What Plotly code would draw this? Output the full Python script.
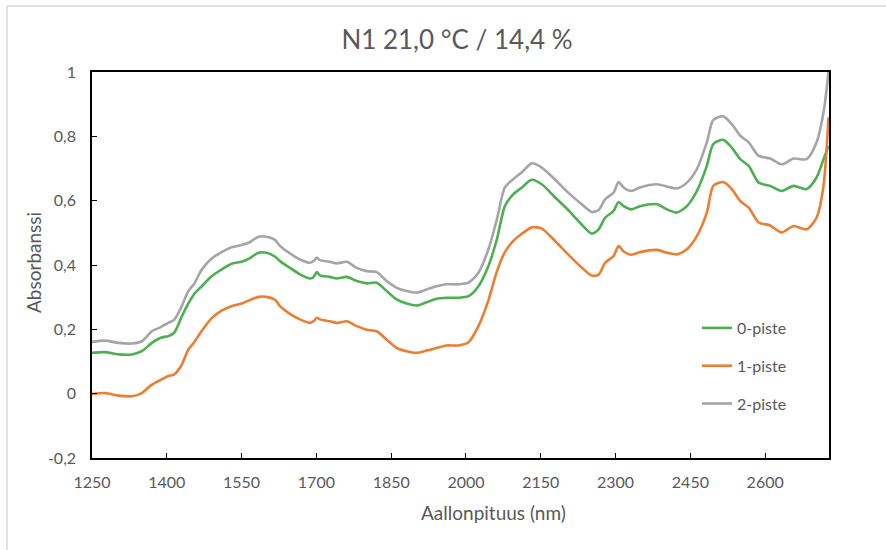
import plotly.graph_objects as go

# Wavelength grid (nm) and absorbance for the three samples
wavelength = [1250, 1276, 1303, 1330, 1350, 1370, 1388, 1403, 1415, 1430, 1443, 1455, 1470, 1490,
              1510, 1530, 1550, 1565, 1584, 1600, 1617, 1627, 1647, 1667, 1687, 1694, 1701, 1707,
              1727, 1741, 1761, 1781, 1801, 1821, 1841, 1861, 1881, 1901, 1921, 1941, 1961, 1985,
              2005, 2025, 2045, 2062, 2078, 2095, 2112, 2132, 2152, 2179, 2205, 2232, 2252, 2266,
              2279, 2296, 2306, 2316, 2332, 2349, 2383, 2403, 2423, 2443, 2463, 2483, 2496, 2516,
              2533, 2550, 2567, 2587, 2610, 2633, 2657, 2683, 2703, 2717, 2727]

piste_0 = [0.127, 0.129, 0.122, 0.122, 0.132, 0.158, 0.174, 0.179, 0.190, 0.240, 0.280, 0.310, 0.334, 0.365,
           0.386, 0.404, 0.410, 0.420, 0.438, 0.438, 0.426, 0.412, 0.391, 0.371, 0.358, 0.362, 0.378, 0.368,
           0.363, 0.358, 0.363, 0.350, 0.343, 0.345, 0.319, 0.293, 0.280, 0.274, 0.284, 0.295, 0.298, 0.298,
           0.303, 0.334, 0.397, 0.480, 0.583, 0.620, 0.641, 0.665, 0.651, 0.610, 0.571, 0.526, 0.498, 0.511,
           0.547, 0.568, 0.596, 0.583, 0.573, 0.583, 0.589, 0.573, 0.563, 0.583, 0.630, 0.708, 0.776, 0.789,
           0.765, 0.729, 0.708, 0.656, 0.646, 0.630, 0.646, 0.636, 0.672, 0.729, 0.770]

piste_1 = [-0.001, 0.002, -0.006, -0.008, 0.002, 0.028, 0.043, 0.055, 0.060, 0.090, 0.137, 0.160, 0.195, 0.235,
           0.258, 0.272, 0.280, 0.290, 0.301, 0.301, 0.292, 0.272, 0.248, 0.231, 0.220, 0.225, 0.236, 0.231,
           0.225, 0.220, 0.225, 0.210, 0.199, 0.194, 0.168, 0.142, 0.132, 0.127, 0.134, 0.142, 0.150, 0.150,
           0.160, 0.210, 0.290, 0.380, 0.440, 0.475, 0.497, 0.517, 0.513, 0.474, 0.433, 0.392, 0.367, 0.370,
           0.407, 0.428, 0.459, 0.442, 0.432, 0.440, 0.447, 0.438, 0.433, 0.449, 0.490, 0.563, 0.646, 0.658,
           0.636, 0.599, 0.578, 0.532, 0.523, 0.501, 0.521, 0.511, 0.547, 0.646, 0.859]

piste_2 = [0.161, 0.165, 0.158, 0.156, 0.163, 0.194, 0.207, 0.220, 0.230, 0.272, 0.319, 0.342, 0.385, 0.420,
           0.440, 0.455, 0.462, 0.470, 0.488, 0.488, 0.478, 0.459, 0.436, 0.417, 0.407, 0.412, 0.423, 0.415,
           0.410, 0.405, 0.410, 0.391, 0.381, 0.378, 0.350, 0.329, 0.319, 0.314, 0.324, 0.334, 0.340, 0.340,
           0.345, 0.376, 0.449, 0.542, 0.641, 0.667, 0.688, 0.716, 0.703, 0.665, 0.625, 0.589, 0.565, 0.571,
           0.604, 0.625, 0.658, 0.641, 0.630, 0.641, 0.651, 0.644, 0.638, 0.656, 0.698, 0.781, 0.851, 0.862,
           0.838, 0.802, 0.781, 0.739, 0.731, 0.713, 0.731, 0.729, 0.781, 0.874, 1.000]

series_names = ["0-piste", "1-piste", "2-piste"]
series_colors = ["#4CAF50", "#ED7D31", "#A5A5A5"]

x_ticks = [1250, 1400, 1550, 1700, 1850, 2000, 2150, 2300, 2450, 2600]
y_ticks = [-0.2, 0, 0.2, 0.4, 0.6, 0.8, 1]
y_tick_labels = ["-0,2", "0", "0,2", "0,4", "0,6", "0,8", "1"]

W, H = 886, 550
L, R, T, B = 92, 829, 72, 458  # plot area in pixels

fig = go.Figure()
for i, (name, vals, col) in enumerate(zip(series_names, [piste_0, piste_1, piste_2], series_colors)):
    fig.add_trace(go.Scatter(
        x=wavelength, y=vals, name=name, mode="lines",
        line=dict(color=col, width=2.6, shape="spline", smoothing=0.7),
        legendgroup=f"g{i}",
    ))

txt = "#595959"
font_family = "Lato, 'Open Sans', sans-serif"

def px_to_paper_x(px):
    return (px - L) / (R - L)

def px_to_paper_y(py):
    return (B - py) / (B - T)

fig.update_layout(
    width=W, height=H,
    margin=dict(l=L, r=W - R, t=T, b=H - B, pad=0),
    paper_bgcolor="white", plot_bgcolor="white",
    font=dict(family=font_family, color=txt, size=16),
    title=dict(text="N1 21,0 °C / 14,4 %", x=457 / W, xanchor="center",
               y=1 - 40 / H, yanchor="middle", font=dict(size=26, color=txt)),
    showlegend=True,
    legend=dict(x=px_to_paper_x(697), y=px_to_paper_y(311), xanchor="left", yanchor="top",
                traceorder="grouped", tracegroupgap=14, bgcolor="rgba(0,0,0,0)",
                font=dict(size=16, color=txt)),
    xaxis=dict(range=[1250, 2728], tickvals=x_ticks, showgrid=False, zeroline=False,
               showline=True, linecolor="black", linewidth=1.5, mirror=True,
               ticks="inside", ticklen=5, tickcolor="black", tickwidth=1,
               ticklabelstandoff=9, tickfont=dict(size=16, color=txt)),
    yaxis=dict(range=[-0.2, 1], tickvals=y_ticks, ticktext=y_tick_labels, showgrid=False,
               zeroline=False, showline=True, linecolor="black", linewidth=1.5, mirror=True,
               ticks="inside", ticklen=5, tickcolor="black", tickwidth=1,
               ticklabelstandoff=11, tickfont=dict(size=16, color=txt)),
)

# axis titles
fig.add_annotation(text="Aallonpituus (nm)", xref="paper", yref="paper",
                   x=px_to_paper_x(493), y=px_to_paper_y(512), xanchor="center", yanchor="middle",
                   showarrow=False, font=dict(size=19, color=txt))
fig.add_annotation(text="Absorbanssi", xref="paper", yref="paper", textangle=-90,
                   x=px_to_paper_x(33), y=px_to_paper_y(263), xanchor="center", yanchor="middle",
                   showarrow=False, font=dict(size=19, color=txt))

# light chart-area frame along the top and left edges
fig.add_shape(type="line", xref="paper", yref="paper",
              x0=px_to_paper_x(7), x1=px_to_paper_x(W), y0=px_to_paper_y(6), y1=px_to_paper_y(6),
              line=dict(color="#D9D9D9", width=1.5))
fig.add_shape(type="line", xref="paper", yref="paper",
              x0=px_to_paper_x(7), x1=px_to_paper_x(7), y0=px_to_paper_y(6), y1=px_to_paper_y(H),
              line=dict(color="#D9D9D9", width=1.5))

fig.write_html("out.html")
